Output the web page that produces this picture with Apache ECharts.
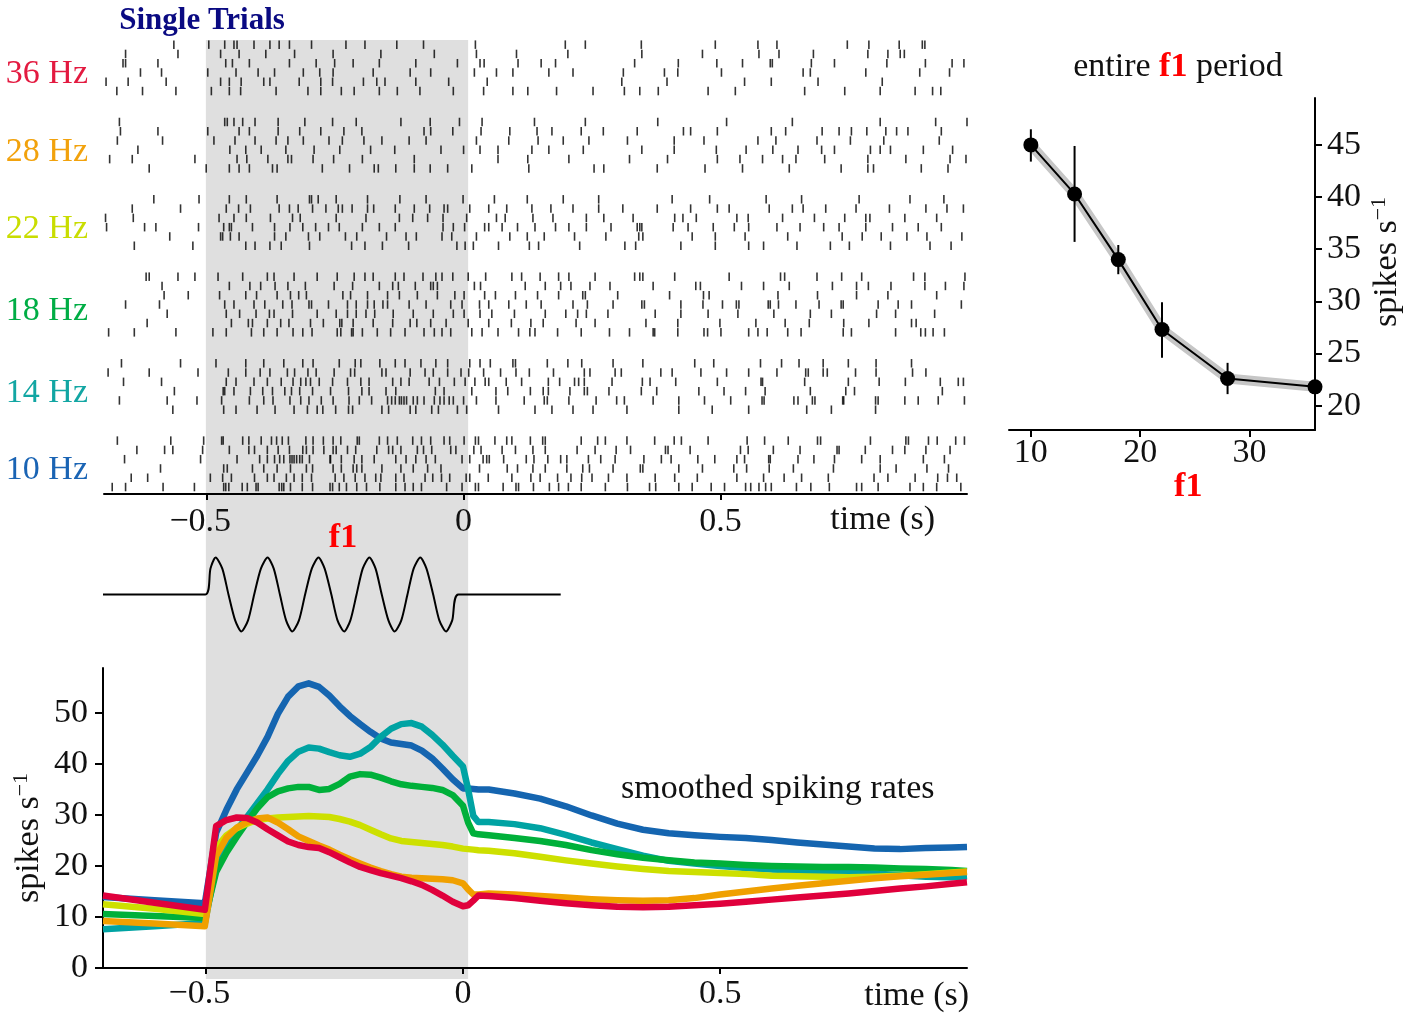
<!DOCTYPE html>
<html><head><meta charset="utf-8">
<script src="https://cdn.jsdelivr.net/npm/echarts@6/dist/echarts.min.js"></script>
<style>html,body{margin:0;padding:0;background:#fff}#c{width:1417px;height:1013px}</style>
</head><body><div id="c"></div>
<script>
const FONT = '"Liberation Serif","Times New Roman",serif';

// ---------- raster: spike times (ms) per trial, groups top to bottom ----------
const groupLabels = ['36 Hz','28 Hz','22 Hz','18 Hz','14 Hz','10 Hz'];
const groupColors = ['#e31a40','#f2a20c','#c9dd00','#00ad45','#12a6a3','#1a64b4'];

const spikes36 = [
 [-564,-496,-465,-447,-441,-408,-377,-359,-339,-296,-229,-192,-130,-78,23,198,237,346,490,573,610,747,789,848,893,898],
 [-658,-556,-473,-437,-385,-329,-254,-161,-57,25,103,203,347,465,575,614,681,787,826,850,858],
 [-663,-658,-595,-463,-450,-417,-339,-287,-251,-215,-164,-93,-12,32,40,106,151,179,333,418,493,543,597,601,677,722,824,899,951,974],
 [-629,-588,-498,-443,-400,-368,-312,-280,-254,-176,-104,-64,21,64,96,166,213,311,391,417,502,661,675,783,888,946],
 [-696,-653,-579,-473,-456,-433,-389,-377,-320,-278,-255,-195,-169,-153,-93,-29,46,308,396,547,599,690,815],
 [-675,-625,-560,-491,-456,-434,-365,-303,-278,-238,-213,-164,-129,-85,-20,39,96,125,181,252,313,343,379,476,529,664,742,811,879,913,929]
];
const spikes28 = [
 [-670,-465,-460,-447,-430,-406,-361,-309,-255,-209,-122,-65,-8,36,138,237,378,512,640,811,919,980],
 [-668,-595,-498,-437,-417,-361,-319,-278,-233,-198,-77,-64,-21,34,90,143,172,229,272,338,428,442,494,599,627,698,731,755,785,822,843,865,930],
 [-674,-586,-486,-445,-406,-365,-342,-312,-262,-236,-194,-159,-106,-73,25,88,145,194,244,319,410,468,573,608,688,753,818,926],
 [-634,-455,-424,-394,-346,-291,-241,-181,-134,-44,0,32,67,133,166,233,347,410,492,550,602,651,697,722,792,811,831,895,952],
 [-689,-645,-523,-441,-422,-381,-342,-335,-293,-253,-197,-96,67,125,205,323,397,494,538,582,621,647,703,787,861,947,978],
 [-612,-501,-456,-437,-417,-372,-363,-275,-222,-174,-166,-132,-96,-65,-31,16,127,254,273,377,470,543,634,735,787,798,891,943]
];
const spikes22 = [
 [-603,-515,-456,-423,-363,-300,-296,-283,-248,-187,-124,-73,-1,60,124,194,263,406,479,589,658,770,869,935],
 [-645,-551,-462,-438,-415,-359,-339,-322,-294,-268,-244,-236,-217,-187,-175,-133,-96,-66,-38,-31,12,49,84,133,170,213,263,310,377,442,494,517,595,640,661,705,764,829,900,941,973],
 [-697,-643,-476,-447,-423,-376,-333,-318,-248,-190,-125,-99,-70,-40,6,64,81,135,174,239,273,330,411,427,453,532,554,621,683,742,783,791,859,921],
 [-695,-621,-599,-516,-467,-456,-452,-411,-368,-338,-313,-288,-263,-242,-197,-164,-133,-40,-20,2,41,49,75,105,139,179,205,239,287,338,343,347,408,437,486,527,555,610,655,701,731,783,835,885,930],
 [-572,-473,-469,-454,-437,-368,-346,-302,-280,-230,-208,-150,-112,-92,-42,-23,25,90,124,157,216,277,341,349,445,490,548,631,737,776,813,863,902,970],
 [-641,-527,-424,-406,-377,-355,-300,-218,-192,-158,-107,-13,3,19,68,128,146,226,314,335,423,490,555,584,649,714,751,831,908,949]
];
const spikes18 = [
 [-618,-612,-556,-523,-478,-430,-382,-369,-330,-285,-246,-213,-192,-176,-133,-116,-79,-54,-42,-21,9,43,94,113,149,185,205,256,333,343,349,411,517,617,625,688,736,775,876,898,976],
 [-587,-456,-416,-395,-367,-342,-308,-252,-216,-164,-138,-127,-94,-64,-59,-51,21,33,120,159,189,209,246,285,369,452,461,541,584,634,718,765,788,832,898,938,974],
 [-583,-536,-475,-424,-403,-363,-337,-321,-306,-235,-220,-187,-148,-125,-90,-51,-17,1,41,62,101,144,185,232,237,300,401,467,478,612,689,765,826,921],
 [-658,-592,-465,-447,-408,-387,-352,-334,-301,-296,-263,-226,-209,-187,-174,-157,-148,-106,-73,-25,-3,31,49,88,122,151,213,241,291,347,352,423,466,504,531,536,593,597,613,647,692,735,739,807,846,872,969],
 [-577,-462,-436,-404,-378,-369,-333,-285,-248,-226,-209,-190,-173,-137,-98,-59,-20,1,32,55,99,159,199,222,239,281,373,423,476,534,604,675,716,804,841,917],
 [-616,-452,-419,-411,-382,-356,-340,-298,-273,-241,-237,-215,-176,-138,-104,-91,-64,-34,9,49,93,131,155,219,256,355,417,499,569,626,673,740,789,872,881],
 [-691,-641,-560,-488,-462,-413,-389,-363,-332,-313,-295,-246,-239,-218,-215,-197,-168,-142,-114,-77,-57,-42,-25,16,36,67,107,129,139,183,229,284,323,369,372,417,468,475,501,555,573,591,631,657,739,755,841,890,899,914,936]
];
const spikes14 = [
 [-666,-551,-482,-424,-389,-350,-313,-293,-242,-211,-200,-163,-133,-114,-83,-54,-31,12,32,52,96,101,163,203,230,291,349,450,487,578,619,653,700,749,803,872],
 [-692,-612,-517,-458,-424,-396,-377,-343,-329,-303,-287,-252,-220,-212,-159,-151,-104,-75,-59,-31,-5,10,39,72,102,128,175,235,246,295,307,384,406,462,512,555,610,666,671,700,708,763,803,874,900],
 [-662,-588,-462,-443,-408,-382,-355,-332,-317,-307,-298,-281,-255,-226,-200,-184,-138,-122,-106,-67,-47,-18,3,22,42,49,83,113,165,187,216,224,235,289,348,363,413,494,579,582,664,749,809,860,928,963,973],
 [-563,-468,-465,-447,-415,-391,-372,-348,-335,-319,-294,-259,-224,-198,-184,-151,-132,-55,-38,16,63,86,130,155,165,207,235,241,283,346,376,458,507,549,587,675,744,761,932],
 [-670,-577,-519,-471,-417,-389,-371,-338,-317,-301,-277,-254,-223,-203,-179,-148,-140,-133,-125,-121,-116,-111,-98,-90,-77,-57,-46,-38,-28,-20,0,25,63,118,157,163,205,258,298,313,369,419,469,520,581,585,643,651,679,684,738,740,802,807,859,885,924,975],
 [-566,-467,-443,-402,-367,-330,-304,-285,-274,-249,-224,-216,-159,-146,-104,-93,-62,-49,-12,6,68,139,172,213,252,318,419,484,555,668,716,802]
];
const spikes10 = [
 [-674,-570,-506,-471,-468,-430,-418,-394,-374,-364,-353,-341,-307,-293,-273,-254,-239,-207,-203,-164,-148,-129,-99,-82,-64,-38,-27,1,23,29,61,84,94,130,154,159,229,261,276,318,372,410,424,476,552,586,632,689,695,792,861,866,905,922,958,975],
 [-636,-582,-566,-508,-456,-418,-407,-382,-361,-339,-313,-306,-293,-272,-254,-248,-226,-210,-169,-146,-138,-122,-90,-78,-62,-25,-15,20,34,75,101,135,159,221,256,297,325,393,398,441,539,554,603,655,727,731,782,835,859,900,947],
 [-660,-512,-441,-397,-382,-368,-358,-350,-338,-334,-330,-325,-319,-314,-300,-260,-259,-238,-213,-198,-174,-132,-112,-93,-73,-55,-3,12,38,45,50,78,122,137,164,189,201,243,267,295,351,385,404,456,489,532,547,594,597,651,682,722,775,811,895,936],
 [-590,-467,-460,-411,-389,-363,-337,-306,-294,-254,-238,-215,-208,-198,-159,-122,-98,-70,-44,31,85,105,135,159,201,232,245,291,344,349,419,465,526,551,595,642,720,811,842,902,944],
 [-647,-615,-493,-469,-452,-407,-382,-369,-345,-330,-314,-296,-250,-233,-211,-192,-171,-161,-132,-116,-75,-60,-43,-27,5,12,48,94,131,149,183,209,230,250,282,318,373,411,455,532,584,624,658,710,799,826,879,923,942,960],
 [-684,-658,-585,-524,-467,-463,-457,-431,-421,-404,-400,-359,-354,-350,-337,-314,-294,-260,-255,-242,-228,-208,-189,-163,-132,-114,-98,-82,-33,-3,23,29,77,102,107,136,167,185,204,229,276,319,362,374,419,445,482,508,549,559,575,588,599,648,676,712,765,775,807,869,895,921,968]
];
const rasterGroups = [spikes36, spikes28, spikes22, spikes18, spikes14, spikes10];

// ---------- smoothed spiking rates (spikes/s) ----------
const rateTime = [-0.70,-0.60,-0.502,-0.48,-0.46,-0.44,-0.42,-0.40,-0.38,-0.36,-0.34,-0.32,-0.30,-0.28,-0.26,-0.24,-0.22,-0.20,-0.18,-0.16,-0.14,-0.12,-0.10,-0.08,-0.06,-0.04,-0.02,0.00,0.01,0.02,0.03,0.05,0.10,0.15,0.20,0.25,0.30,0.35,0.40,0.45,0.50,0.55,0.60,0.65,0.70,0.75,0.80,0.85,0.90,0.95,0.98];
const rate10 = [13.9,13.3,12.7,26.5,31.0,35.0,38.3,41.6,45.3,49.8,53.2,55.2,55.8,55.1,53.4,51.3,49.4,47.8,46.3,45.0,44.2,43.9,43.6,42.6,41.1,39.1,37.0,35.2,35.2,35.1,35.0,35.0,34.2,33.2,31.7,29.9,28.3,27.1,26.4,26.0,25.7,25.5,25.1,24.6,24.2,23.8,23.4,23.3,23.5,23.6,23.7];
const rate14 = [7.6,8.2,8.8,20.0,23.5,27.0,29.6,32.3,35.0,38.0,40.6,42.4,43.2,43.0,42.3,41.7,41.4,42.0,43.3,45.3,46.9,47.8,48.0,47.3,45.7,43.8,41.6,39.5,35.0,29.8,28.6,28.6,28.2,27.4,26.1,24.6,23.3,22.0,21.0,20.5,20.0,19.6,19.3,19.1,18.9,18.7,18.5,18.2,17.9,17.8,18.0];
const rate18 = [10.6,10.2,9.8,18.8,22.6,25.7,28.6,31.3,33.5,34.6,35.2,35.5,35.5,34.9,35.1,36.1,37.5,38.0,37.9,37.3,36.6,36.0,35.7,35.5,35.3,34.9,33.9,31.8,28.5,26.4,26.2,26.0,25.5,24.9,24.1,23.1,22.3,21.6,21.1,20.7,20.5,20.2,20.0,19.9,19.8,19.8,19.7,19.5,19.4,19.2,19.0];
const rate22 = [12.5,11.6,10.6,23.5,26.0,27.4,28.3,29.0,29.3,29.5,29.6,29.7,29.8,29.7,29.6,29.2,28.7,28.0,27.1,26.2,25.4,24.9,24.7,24.5,24.3,24.1,23.8,23.4,23.3,23.2,23.1,23.0,22.5,21.8,21.1,20.5,19.9,19.4,19.0,18.8,18.6,18.4,18.1,18.0,17.9,17.8,17.9,18.1,18.4,18.7,18.9];
const rate28 = [9.2,8.7,8.2,22.0,25.5,27.5,28.6,29.3,29.5,28.5,27.2,25.8,24.9,24.0,23.2,22.2,21.3,20.5,19.7,19.0,18.4,17.9,17.7,17.6,17.5,17.4,17.2,16.6,15.4,14.4,14.4,14.6,14.4,14.1,13.8,13.5,13.3,13.2,13.3,13.7,14.4,15.0,15.6,16.1,16.6,17.1,17.6,18.0,18.3,18.6,18.8];
const rate36 = [14.2,12.8,11.4,27.8,29.0,29.5,29.4,28.5,27.2,26.0,24.8,24.1,23.7,23.5,22.7,21.7,20.7,19.8,19.2,18.6,18.1,17.6,17.0,16.3,15.3,14.2,13.0,12.1,12.3,13.2,14.2,14.1,13.7,13.2,12.7,12.3,12.0,11.9,12.0,12.3,12.6,13.0,13.4,13.8,14.2,14.6,15.1,15.6,16.0,16.5,16.8];
const rateSeries = [rate10, rate14, rate18, rate22, rate28, rate36];
const rateColors = ['#1565b0','#00a3a3','#00b03a','#cde000','#f0a000','#e0003c'];

// ---------- stimulus waveform (schematic) ----------
const stimTime = [-0.70,-0.501,-0.491,-0.481,-0.468,-0.456,-0.443,-0.431,-0.418,-0.406,-0.393,-0.380,-0.368,-0.356,-0.344,-0.332,-0.319,-0.307,-0.294,-0.281,-0.269,-0.256,-0.244,-0.231,-0.219,-0.207,-0.195,-0.182,-0.170,-0.158,-0.145,-0.133,-0.120,-0.108,-0.096,-0.083,-0.071,-0.058,-0.046,-0.033,-0.021,-0.009,0.190];
const stimAmp = [0,0,0.7,1,0.7,0,-0.7,-1,-0.7,0,0.7,1,0.7,0,-0.7,-1,-0.7,0,0.7,1,0.7,0,-0.7,-1,-0.7,0,0.7,1,0.7,0,-0.7,-1,-0.7,0,0.7,1,0.7,0,-0.7,-1,-0.7,0,0];
const stimWindow = [-0.5, 0.01];

// ---------- entire f1 period ----------
const f1Freq = [10,14,18,22,28,36];
const f1Rate = [45.0,40.3,34.0,27.3,22.6,21.8];
const f1ErrLo = [43.4,35.7,32.6,24.6,21.1,21.8];
const f1ErrHi = [46.5,44.9,35.4,29.9,24.1,21.8];

const timeTicks = [-0.5, 0, 0.5];
const rateTicks = [0,10,20,30,40,50];
const f1Ticks = [10,20,30];
const f1RateTicks = [20,25,30,35,40,45];

// ---------- build ----------
const ROW_GAP = 3.33;
const rasterData = [];
const groupCenters = [];
let row = 0;
rasterGroups.forEach(trials => {
  const first = row;
  trials.forEach((tr, i) => tr.forEach(ms => rasterData.push([ms / 1000, row + i])));
  const last = row + trials.length - 1;
  groupCenters.push((first + last) / 2);
  row = last + ROW_GAP;
});

const INK = '#111';
const fmtTime = v => v < 0 ? '{n|\u2212' + (-v) + '}' : String(v);
const labelBase = {fontSize: 34, fontFamily: FONT, color: INK};
const timeAxis = (grid, margin) => ({
  gridIndex: grid, type: 'value', min: -0.7, max: 0.98,
  axisLine: {onZero: false, lineStyle: {color: '#000', width: 2}},
  axisTick: {customValues: timeTicks, length: 6, lineStyle: {color: '#000', width: 2}},
  axisLabel: Object.assign({customValues: timeTicks, margin: margin, formatter: fmtTime,
    rich: {n: {fontSize: 34, fontFamily: FONT, color: INK, padding: [0, 13, 0, 0]}}}, labelBase),
  splitLine: {show: false}
});

const chart = echarts.init(document.getElementById('c'));
const gridCommon = {containLabel: false, outerBoundsMode: 'none'};
chart.setOption({
  animation: false,
  backgroundColor: '#fff',
  grid: [
    Object.assign({left: 104, top: 40, width: 863, height: 454}, gridCommon),
    Object.assign({left: 103, top: 539, width: 864, height: 111}, gridCommon),
    Object.assign({left: 103, top: 668, width: 864, height: 300}, gridCommon),
    Object.assign({left: 1009, top: 98, width: 306, height: 332}, gridCommon)
  ],
  xAxis: [
    timeAxis(0, 11),
    {gridIndex: 1, type: 'value', min: -0.7, max: 0.98, show: false},
    timeAxis(2, 9),
    {gridIndex: 3, type: 'value', min: 8, max: 36,
     axisLine: {onZero: false, lineStyle: {color: '#000', width: 2}},
     axisTick: {customValues: f1Ticks, length: 7, lineStyle: {color: '#000', width: 2}},
     axisLabel: Object.assign({customValues: f1Ticks, margin: 6}, labelBase),
     splitLine: {show: false}}
  ],
  yAxis: [
    {gridIndex: 0, type: 'value', inverse: true, min: -0.5, max: 48.4, show: false},
    {gridIndex: 1, type: 'value', min: -1.5, max: 1.5, show: false},
    {gridIndex: 2, type: 'value', min: 0, max: 58.8,
     axisLine: {show: true, onZero: false, lineStyle: {color: '#000', width: 2}},
     axisTick: {show: true, customValues: rateTicks, length: 8, lineStyle: {color: '#000', width: 2}},
     axisLabel: Object.assign({customValues: rateTicks, margin: 15}, labelBase),
     splitLine: {show: false}},
    {gridIndex: 3, type: 'value', position: 'right', min: 17.66, max: 49.5,
     axisLine: {show: true, onZero: false, lineStyle: {color: '#000', width: 2}},
     axisTick: {show: true, customValues: f1RateTicks, length: 7, lineStyle: {color: '#000', width: 2}},
     axisLabel: Object.assign({customValues: f1RateTicks, margin: 12}, labelBase),
     splitLine: {show: false}}
  ],
  series: [
    {type: 'scatter', xAxisIndex: 0, yAxisIndex: 0, data: rasterData, symbol: 'rect',
     symbolSize: [1.6, 8.5], itemStyle: {color: '#000'}, silent: true, z: 3},
    {type: 'line', xAxisIndex: 1, yAxisIndex: 1, data: stimTime.map((t, i) => [t, stimAmp[i]]),
     symbol: 'none', smooth: 0.25, lineStyle: {color: '#000', width: 2}, silent: true, z: 3}
  ].concat(rateSeries.map((arr, k) => ({
     type: 'line', xAxisIndex: 2, yAxisIndex: 2, data: rateTime.map((t, i) => [t, arr[i]]),
     symbol: 'none', lineStyle: {color: rateColors[k], width: 6.5, join: 'round', cap: 'butt'},
     silent: true, z: 3 + k
  }))).concat([
    {type: 'line', xAxisIndex: 3, yAxisIndex: 3, data: f1Freq.map((f, i) => [f, f1Rate[i]]),
     symbol: 'none', lineStyle: {color: '#c6c6c6', width: 10, cap: 'round', join: 'round'},
     clip: false, silent: true, z: 3},
    {type: 'custom', xAxisIndex: 3, yAxisIndex: 3, clip: false, silent: true, z: 4,
     data: f1Freq.map((f, i) => [f, f1ErrLo[i], f1ErrHi[i]]),
     encode: {x: 0, y: [1, 2]},
     renderItem: (params, api) => {
       const a = api.coord([api.value(0), api.value(1)]);
       const b = api.coord([api.value(0), api.value(2)]);
       return {type: 'line', shape: {x1: a[0], y1: a[1], x2: b[0], y2: b[1]},
               style: {stroke: '#000', lineWidth: 2}};
     }},
    {type: 'line', xAxisIndex: 3, yAxisIndex: 3, data: f1Freq.map((f, i) => [f, f1Rate[i]]),
     symbol: 'circle', symbolSize: 15, itemStyle: {color: '#000'},
     lineStyle: {color: '#000', width: 2}, clip: false, silent: true, z: 5}
  ])
});

// ---------- annotations positioned from the axes ----------
const xPix = (axis, v) => chart.convertToPixel({xAxisIndex: axis}, v);
const yPix = (axis, v) => chart.convertToPixel({yAxisIndex: axis}, v);
const shadeL = xPix(2, stimWindow[0]), shadeR = xPix(2, stimWindow[1]);
const txt = (text, x, y, opt) => Object.assign({type: 'text', x: x, y: y, silent: true, z: 10,
  style: Object.assign({text: text, fontSize: 34, fontFamily: FONT, fill: INK, align: 'center', verticalAlign: 'middle'}, opt || {})});

const graphics = [
  {type: 'rect', silent: true, z: -1, shape: {x: shadeL, y: 40, width: shadeR - shadeL, height: 979 - 40},
   style: {fill: '#dfdfdf'}},
  txt('Single Trials', 202, 21, {fontWeight: 'bold', fontSize: 31, fill: '#0a0a82'}),
  txt('time (s)', xPix(0, 0.816), 520),
  txt('f1', 343, 538, {fontWeight: 'bold', fill: '#ff0000'}),
  txt('smoothed spiking rates', xPix(2, 0.612), 789),
  txt('time (s)', xPix(2, 0.882), 996),
  txt('f1', xPix(3, 24.4), 487, {fontWeight: 'bold', fill: '#ff0000'}),
  {type: 'text', x: 1178, y: 67, silent: true, z: 10,
   style: {text: '{a|entire }{b|f1}{a| period}', align: 'center', verticalAlign: 'middle',
     rich: {a: {fontSize: 34, fontFamily: FONT, fill: INK},
            b: {fontSize: 34, fontFamily: FONT, fontWeight: 'bold', fill: '#ff0000'}}}},
  {type: 'text', x: 28, y: 838, rotation: Math.PI / 2, silent: true, z: 10,
   style: {text: '{a|spikes s}{b|\u22121}', align: 'center', verticalAlign: 'middle',
     rich: {a: {fontSize: 34, fontFamily: FONT, fill: INK, lineHeight: 36, verticalAlign: 'bottom'},
            b: {fontSize: 22, fontFamily: FONT, fill: INK, lineHeight: 26, verticalAlign: 'top'}}}},
  {type: 'text', x: 1386, y: 262, rotation: Math.PI / 2, silent: true, z: 10,
   style: {text: '{a|spikes s}{b|\u22121}', align: 'center', verticalAlign: 'middle',
     rich: {a: {fontSize: 34, fontFamily: FONT, fill: INK, lineHeight: 36, verticalAlign: 'bottom'},
            b: {fontSize: 22, fontFamily: FONT, fill: INK, lineHeight: 26, verticalAlign: 'top'}}}}
];
groupLabels.forEach((lab, g) => {
  graphics.push(txt(lab, 88, yPix(0, groupCenters[g]) + 6.5, {align: 'right', fill: groupColors[g]}));
});
chart.setOption({graphic: graphics});
</script>
</body></html>
